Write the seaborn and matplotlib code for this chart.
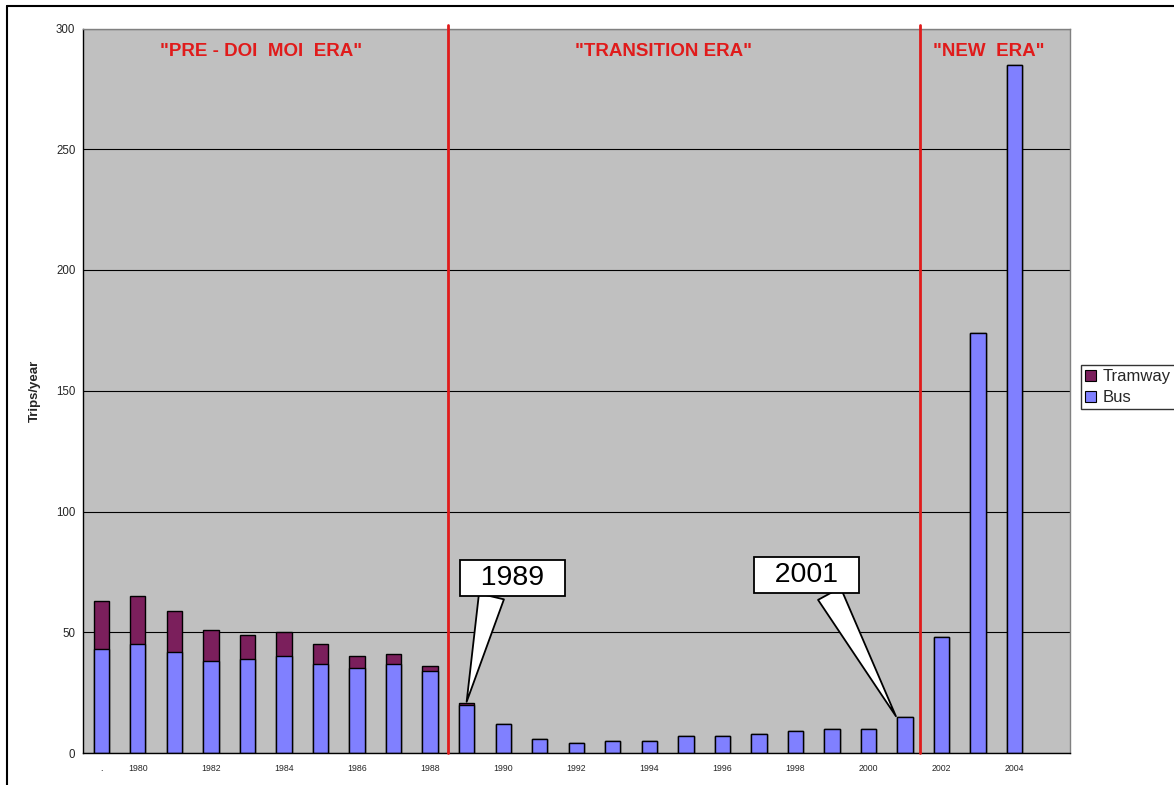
import numpy as np
import pandas as pd
import matplotlib
matplotlib.use("Agg")
import matplotlib.pyplot as plt
import seaborn as sns
from matplotlib.patches import Patch
from matplotlib.lines import Line2D

# ---------------- data ----------------
categories = [".", "1980", "1981", "1982", "1983", "1984", "1985", "1986", "1987",
              "1988", "1989", "1990", "1991", "1992", "1993", "1994", "1995", "1996",
              "1997", "1998", "1999", "2000", "2001", "2002", "2003", "2004", ""]
bus = [43, 45, 42, 38, 39, 40, 37, 35, 37, 34, 20, 12, 6, 4, 5, 5, 7, 7, 8, 9,
       10, 10, 15, 48, 174, 285, np.nan]
tramway = [20, 20, 17, 13, 10, 10, 8, 5, 4, 2, 0.8, 0, 0, 0, 0, 0, 0, 0, 0, 0,
           0, 0, 0, 0, 0, 0, np.nan]
tick_labels = [".", "1980", "", "1982", "", "1984", "", "1986", "", "1988", "",
               "1990", "", "1992", "", "1994", "", "1996", "", "1998", "", "2000",
               "", "2002", "", "2004", ""]
y_ticks = [0, 50, 100, 150, 200, 250, 300]
eras = ['"PRE - DOI  MOI  ERA"', '"TRANSITION ERA"', '"NEW  ERA"']

BUS_C = "#8080FF"
TRAM_C = "#7B1F5C"
RED = "#E01B1B"

sns.set_theme(style="white")
plt.rcParams["font.family"] = ["Liberation Sans", "DejaVu Sans"]

df = pd.DataFrame({"year": categories, "bus": bus, "tramway": tramway})
df["total"] = df["bus"] + df["tramway"]

fig = plt.figure(figsize=(11.74, 7.85), dpi=100)
ax = fig.add_axes([83 / 1174, 1 - 753 / 785, (1069.5 - 83) / 1174, (753 - 28.5) / 785])
ax.set_facecolor("#C0C0C0")

sns.barplot(data=df, x="year", y="total", order=categories, color=TRAM_C,
            saturation=1, width=0.42, edgecolor="black", linewidth=1, ax=ax,
            errorbar=None)
sns.barplot(data=df, x="year", y="bus", order=categories, color=BUS_C,
            saturation=1, width=0.42, edgecolor="black", linewidth=1, ax=ax,
            errorbar=None)

ax.set_xlim(-0.5, len(categories) - 0.5)
ax.set_ylim(0, 300)
ax.set_yticks(y_ticks)
ax.set_yticklabels([str(v) for v in y_ticks], fontsize=8.3)
ax.yaxis.grid(True, color="black", lw=0.8)
ax.xaxis.grid(False)
ax.set_axisbelow(True)

ax.set_xticks(range(len(categories)))
ax.set_xticklabels(tick_labels, fontsize=6.3)
ax.set_xticks(np.arange(-0.5, len(categories), 1), minor=True)
ax.tick_params(axis="x", which="major", length=0, pad=8)
ax.tick_params(axis="x", which="minor", length=3.5, width=0.8, direction="out", color="black")
ax.tick_params(axis="y", which="major", length=3.5, width=0.8, direction="out", color="black", pad=2)
ax.set_xlabel("")
ax.set_ylabel("Trips/year", fontsize=9.5, fontweight="bold", labelpad=11)

for side in ["left", "bottom"]:
    ax.spines[side].set_color("black")
    ax.spines[side].set_linewidth(1)
for side in ["top", "right"]:
    ax.spines[side].set_color("#808080")
    ax.spines[side].set_linewidth(1)

# era separators
for xv in [9.5, 22.41]:
    ax.axvline(xv, ymin=0, ymax=1.005, clip_on=False, color=RED, lw=2, zorder=3)

for xv, txt in zip([4.37, 15.39, 24.3], eras):
    ax.text(xv, 290.5, txt, color=RED, fontsize=13.5, fontweight="bold",
            ha="center", va="center")

# callouts
for label, xy, xyt, rx in [("1989", (10, 21.2), (11.26, 72.5), 0.29),
                           ("2001", (21.75, 15.2), (19.3, 73.6), 0.71)]:
    ax.annotate("  " + label + "  ", xy=xy, xytext=xyt, ha="center", va="center",
                fontsize=20.5, color="black", zorder=6,
                bbox=dict(boxstyle="square,pad=0.17", fc="white", ec="black", lw=1.3),
                arrowprops=dict(arrowstyle="wedge,tail_width=0.9,shrink_factor=0.5",
                                fc="white", ec="black", lw=1.3, relpos=(rx, 0),
                                shrinkA=0, shrinkB=0))

# legend
handles = [Patch(facecolor=TRAM_C, edgecolor="black", lw=0.8, label="Tramway"),
           Patch(facecolor=BUS_C, edgecolor="black", lw=0.8, label="Bus")]
leg = fig.legend(handles=handles, loc="upper left",
                 bbox_to_anchor=(1081 / 1174, 1 - 365 / 785),
                 fontsize=12, frameon=True, fancybox=False, shadow=False,
                 handlelength=0.65, handleheight=0.65, handletextpad=0.4,
                 borderpad=0.25, labelspacing=0.35, borderaxespad=0)
leg.get_frame().set_edgecolor("black")
leg.get_frame().set_linewidth(1)

# outer chart border (cropped)
fig.add_artist(Line2D([7 / 1174, 7 / 1174], [0, 1 - 6 / 785], transform=fig.transFigure,
                      color="black", lw=1.5))
fig.add_artist(Line2D([7 / 1174, 1], [1 - 6 / 785, 1 - 6 / 785], transform=fig.transFigure,
                      color="black", lw=1.5))

fig.savefig("out.png", dpi=100, facecolor="white")
